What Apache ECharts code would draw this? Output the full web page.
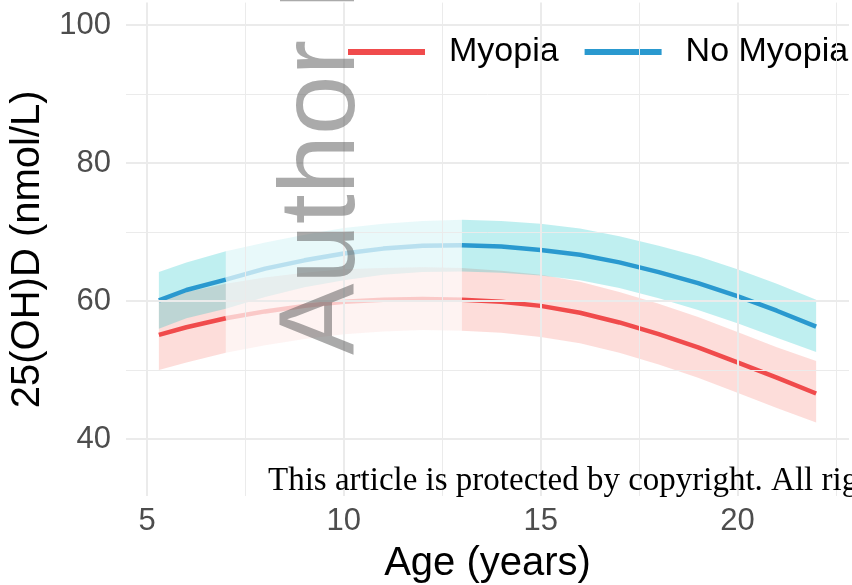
<!DOCTYPE html>
<html>
<head>
<meta charset="utf-8">
<script src="https://cdn.jsdelivr.net/npm/echarts@6/dist/echarts.min.js"></script>
<style>
html,body{margin:0;padding:0;background:#fff;overflow:hidden;}
#chart{width:852px;height:585px;}
</style>
</head>
<body>
<div id="chart"></div>
<script>
// ---- data ----
const ages = [5.3, 6, 7, 8, 9, 10, 11, 12, 13, 14, 15, 16, 17, 18, 19, 20, 21, 22];
const myopiaFit = [55.1, 56.2, 57.5, 58.5, 59.3, 59.9, 60.2, 60.3, 60.2, 59.9, 59.3, 58.3, 56.9, 55.2, 53.3, 51.1, 48.9, 46.6];
const myopiaLo  = [50.0, 51.1, 52.5, 53.6, 54.5, 55.2, 55.6, 55.8, 55.7, 55.4, 54.8, 53.9, 52.5, 50.8, 48.9, 46.7, 44.5, 42.4];
const myopiaHi  = [60.3, 61.3, 62.5, 63.4, 64.1, 64.6, 64.8, 64.9, 64.8, 64.4, 63.8, 62.8, 61.3, 59.6, 57.7, 55.5, 53.3, 51.3];
const noMyopiaFit = [60.1, 61.6, 63.1, 64.7, 65.9, 66.9, 67.6, 68.0, 68.1, 67.9, 67.4, 66.7, 65.6, 64.2, 62.6, 60.7, 58.6, 56.3];
const noMyopiaLo  = [56.0, 57.5, 58.9, 60.6, 62.0, 63.0, 63.8, 64.2, 64.3, 64.1, 63.7, 63.0, 61.9, 60.4, 58.7, 56.8, 54.7, 52.6];
const noMyopiaHi  = [64.2, 65.6, 67.2, 68.5, 69.6, 70.6, 71.2, 71.6, 71.8, 71.6, 71.2, 70.5, 69.4, 68.0, 66.5, 64.6, 62.5, 60.2];
const fadeRange = [7, 13];
const xTicks = [5, 10, 15, 20];
const xMinor = [7.5, 12.5, 17.5, 22.5];
const yTicks = [40, 60, 80, 100];
const yMinor = [50, 70, 90];
const groupNames = ['Myopia', 'No Myopia'];

// ---- styling ----
const RED = '#F04B4C', BLUE = '#2A99CF';
const RED_FILL = 'rgba(248,118,109,0.25)', BLUE_FILL = 'rgba(0,191,196,0.25)';
const RED_FILL_F = 'rgba(248,118,109,0.09)', BLUE_FILL_F = 'rgba(0,191,196,0.09)';
const SANS = "'Liberation Sans', Arial, Helvetica, sans-serif";

function idx(from, to) {
  const out = [];
  ages.forEach((a, i) => { if (a >= from - 1e-9 && a <= to + 1e-9) out.push(i); });
  return out;
}
const segs = [
  {r: [ages[0], fadeRange[0]], faded: false},
  {r: [fadeRange[0], fadeRange[1]], faded: true},
  {r: [fadeRange[1], ages[ages.length - 1]], faded: false}
];

function bandSeries(lo, hi, pts, color) {
  return {
    type: 'custom', silent: true, z: 2, clip: true,
    data: pts.map(i => [ages[i], lo[i], hi[i]]),
    renderItem: function (params, api) {
      if (params.dataIndex !== 0) return null;
      const top = pts.map(i => api.coord([ages[i], hi[i]]));
      const bot = pts.map(i => api.coord([ages[i], lo[i]])).reverse();
      return {type: 'polygon', shape: {points: top.concat(bot)}, style: {fill: color}};
    }
  };
}
function lineSeries(name, fit, pts, color, opacity) {
  return {
    type: 'line', name: name, z: 3, silent: true,
    data: pts.map(i => [ages[i], fit[i]]),
    showSymbol: false, symbol: 'none',
    lineStyle: {color: color, width: 4.5, opacity: opacity, cap: 'butt'},
    itemStyle: {color: color}
  };
}

const series = [];
const gl = (v, axis, w) => ({[axis]: v, lineStyle: {color: '#EBEBEB', width: w, type: 'solid'}});
series.push({
  type: 'line', data: [], z: 1, silent: true,
  markLine: {
    silent: true, symbol: ['none', 'none'], label: {show: false}, animation: false,
    data: [].concat(
      xMinor.map(v => gl(v, 'xAxis', 1)),
      yMinor.map(v => gl(v, 'yAxis', 1)),
      xTicks.map(v => gl(v, 'xAxis', 2)),
      yTicks.map(v => gl(v, 'yAxis', 2))
    )
  }
});
segs.forEach(s => series.push(bandSeries(myopiaLo, myopiaHi, idx(s.r[0], s.r[1]), s.faded ? RED_FILL_F : RED_FILL)));
segs.forEach(s => series.push(bandSeries(noMyopiaLo, noMyopiaHi, idx(s.r[0], s.r[1]), s.faded ? BLUE_FILL_F : BLUE_FILL)));
segs.forEach((s, k) => series.push(lineSeries(k === 2 ? groupNames[0] : groupNames[0] + ' seg' + k, myopiaFit, idx(s.r[0], s.r[1]), RED, s.faded ? 0.25 : 1)));
segs.forEach((s, k) => series.push(lineSeries(k === 2 ? groupNames[1] : groupNames[1] + ' seg' + k, noMyopiaFit, idx(s.r[0], s.r[1]), BLUE, s.faded ? 0.25 : 1)));

const chart = echarts.init(document.getElementById('chart'), null, {renderer: 'canvas'});
chart.setOption({
  animation: false,
  backgroundColor: '#ffffff',
  grid: {left: 126, right: 3, top: 2.6, bottom: 89, containLabel: false, outerBoundsMode: 'none'},
  xAxis: {
    type: 'value', min: 4.465, max: 22.835,
    axisLine: {show: false}, axisTick: {show: false}, splitLine: {show: false},
    axisLabel: {customValues: xTicks, fontSize: 31, color: '#4D4D4D', margin: 10, fontFamily: SANS},
    name: 'Age (years)', nameLocation: 'middle', nameGap: 48,
    nameTextStyle: {fontSize: 40, color: '#000', fontFamily: SANS}
  },
  yAxis: {
    type: 'value', min: 31.75, max: 103.25,
    axisLine: {show: false}, axisTick: {show: false}, splitLine: {show: false},
    axisLabel: {customValues: yTicks, fontSize: 31, color: '#4D4D4D', margin: 15, fontFamily: SANS},
    name: '25(OH)D (nmol/L)', nameLocation: 'middle', nameGap: 72, nameRotate: 90,
    nameTextStyle: {fontSize: 40, color: '#000', fontFamily: SANS}
  },
  legend: {
    left: 348, top: 35, padding: 0, itemGap: 26, itemWidth: 77, itemHeight: 6,
    icon: 'rect', selectedMode: false,
    textStyle: {fontSize: 34, color: '#000', fontFamily: SANS, padding: [0, 0, 0, 19]},
    data: [
      {name: groupNames[0], itemStyle: {color: RED}},
      {name: groupNames[1], itemStyle: {color: BLUE}}
    ]
  },
  graphic: [
    {
      type: 'text', x: 324, y: 355, rotation: Math.PI / 2, z: 100, silent: true,
      style: {text: 'Author Manuscript', font: "107px 'Liberation Sans', Arial, sans-serif",
        fill: 'rgba(85,85,85,0.5)', textAlign: 'left', textVerticalAlign: 'middle'}
    },
    {
      type: 'text', x: 268, y: 481, z: 100, silent: true,
      style: {text: 'This article is protected by copyright. All rights reserved.',
        font: "33px 'Liberation Serif', 'Times New Roman', serif", fill: '#000',
        textAlign: 'left', textVerticalAlign: 'middle'}
    }
  ],
  series: series
});
</script>
</body>
</html>
